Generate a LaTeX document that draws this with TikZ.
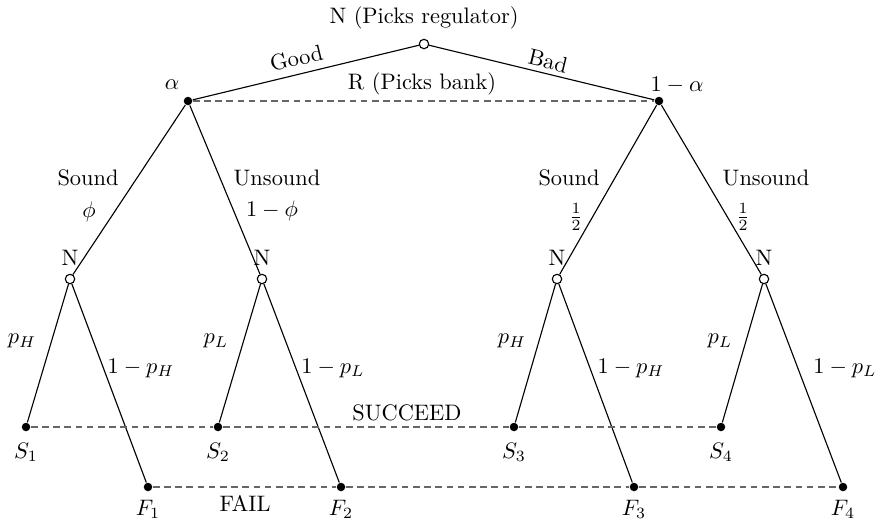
\documentclass[tikz,border=0pt]{standalone}
\usepackage{amsmath,amssymb}
\usetikzlibrary{positioning}

\begin{document}
\begin{tikzpicture}[x=0.0157cm,y=-0.0157cm,line width=0.5pt,
  dot/.style={circle,fill,inner sep=0pt,minimum size=3.8pt},
  chance/.style={circle,draw,fill=white,inner sep=0pt,minimum size=4.2pt},
  info/.style={black!60,dash pattern=on 3pt off 2pt}]
\useasboundingbox (0,0) rectangle (875,519);
% nature picks the regulator
\node[chance] (root) at (424,44) {};
\node (troot) at (424,18) {N (Picks regulator)};
\node[dot] (g) at (188,101) {};
\node[dot] (b) at (659,101) {};
\node (tg) at (172,85) {$\alpha$};
\node (tb) at (677,85) {$1-\alpha$};
\node (tr) at (422,84) {R (Picks bank)};
\draw (g) -- node[sloped,above,pos=0.475] {Good} (root);
\draw (root) -- node[sloped,above=-1.5pt,pos=0.515] {Bad} (b);
\draw[info] (g) -- (b);
% nature picks the bank type
\node[chance,label=above:N] (n1) at (70,279) {};
\node[chance,label=above:N] (n2) at (262,279) {};
\node[chance,label=above:N] (n3) at (557,279) {};
\node[chance,label=above:N] (n4) at (764,279) {};
\draw (g) -- (n1);
\draw (g) -- (n2);
\draw (b) -- (n3);
\draw (b) -- (n4);
\node (ts1) at (88,178) {Sound};
\node (tp1) at (89,212) {$\phi$};
\node (tu1) at (277,178) {Unsound};
\node (tq1) at (272,211) {$1-\phi$};
\node (ts2) at (569,178) {Sound};
\node (tp2) at (576,217) {$\frac{1}{2}$};
\node (tu2) at (766,178) {Unsound};
\node (tq2) at (743,217) {$\frac{1}{2}$};
% outcomes
\node[dot,label={[label distance=1.5pt]below:$S_1$}] (s1) at (26,427) {};
\node[dot,label={[label distance=1.5pt]below:$S_2$}] (s2) at (218,427) {};
\node[dot,label={[label distance=1.5pt]below:$S_3$}] (s3) at (514,427) {};
\node[dot,label={[label distance=1.5pt]below:$S_4$}] (s4) at (721,427) {};
\node[dot,label=below:$F_1$] (f1) at (148,487) {};
\node[dot,label=below:$F_2$] (f2) at (341,487) {};
\node[dot,label=below:$F_3$] (f3) at (634,487) {};
\node[dot,label=below:$F_4$] (f4) at (843,487) {};
\draw (n1) -- (s1);
\draw (n1) -- (f1);
\draw (n2) -- (s2);
\draw (n2) -- (f2);
\draw (n3) -- (s3);
\draw (n3) -- (f3);
\draw (n4) -- (s4);
\draw (n4) -- (f4);
\node (th1) at (22,341) {$p_H$};
\node (tk1) at (141,368) {$1-p_H$};
\node (tl1) at (216,341) {$p_L$};
\node (tm1) at (333,368) {$1-p_L$};
\node (th2) at (512,341) {$p_H$};
\node (tk2) at (631,368) {$1-p_H$};
\node (tl2) at (720,341) {$p_L$};
\node (tm2) at (845,368) {$1-p_L$};
\draw[info] (s1) -- (s2) -- (s3) -- (s4);
\draw[info] (f1) -- (f2) -- (f3) -- (f4);
\node (tsucc) at (407,413) {SUCCEED};
\node (tfail) at (245,503) {FAIL};
\end{tikzpicture}
\end{document}
